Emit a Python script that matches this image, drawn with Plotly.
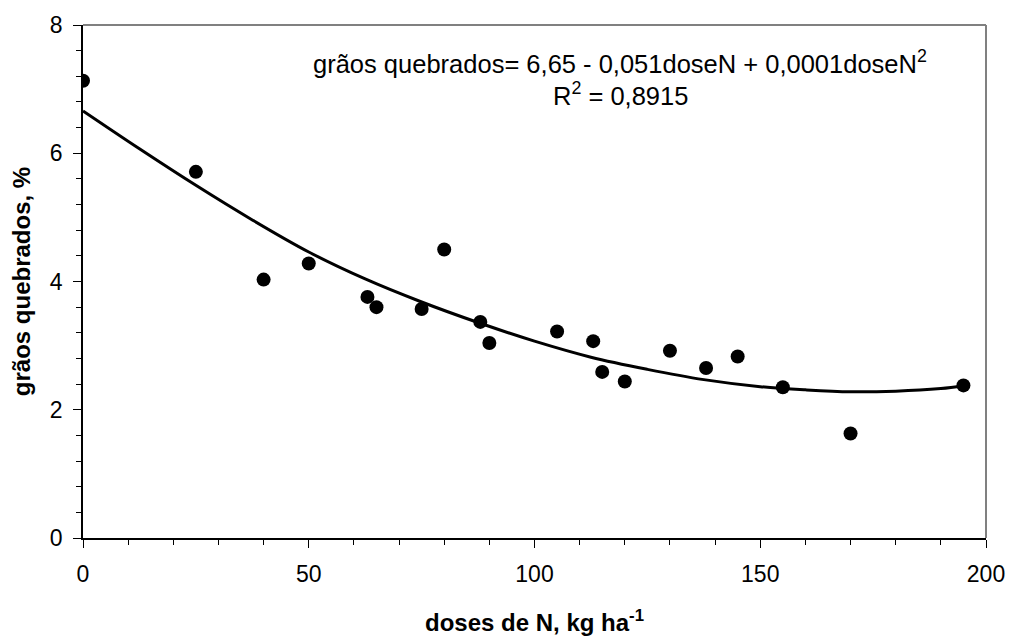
import plotly.graph_objects as go

# Observed data: N doses (kg/ha) and broken grains (%)
dose = [0, 25, 40, 50, 63, 65, 75, 80, 88, 90, 105, 113, 115, 120, 130, 138, 145, 155, 170, 195]
broken = [7.13, 5.71, 4.03, 4.28, 3.76, 3.60, 3.57, 4.50, 3.37, 3.04, 3.22, 3.07, 2.59, 2.44,
          2.92, 2.65, 2.83, 2.35, 1.63, 2.38]

# Trend line values
trend_x = [0, 12.5, 25, 37.5, 50, 62.5, 75, 87.5, 100, 112.5, 125, 137.5, 150, 160, 170, 180, 190, 195]
trend_y = [6.66, 6.07, 5.50, 4.96, 4.46, 4.04, 3.68, 3.36, 3.07, 2.82, 2.63, 2.47, 2.36, 2.31,
           2.28, 2.29, 2.33, 2.37]

x_ticks = [0, 50, 100, 150, 200]
y_ticks = [0, 2, 4, 6, 8]

eq_line1 = "grãos quebrados= 6,65 - 0,051doseN + 0,0001doseN<sup>2</sup>"
eq_line2 = "R<sup>2</sup> = 0,8915"

FONT = "Liberation Sans, Arial, sans-serif"

fig = go.Figure()
fig.add_trace(go.Scatter(x=trend_x, y=trend_y, mode="lines",
                         line=dict(color="black", width=3, shape="spline"),
                         showlegend=False, hoverinfo="skip"))
fig.add_trace(go.Scatter(x=dose, y=broken, mode="markers",
                         marker=dict(color="black", size=14),
                         showlegend=False))

fig.update_layout(
    width=1009, height=636,
    margin=dict(l=83, r=23, t=25, b=98),
    plot_bgcolor="white", paper_bgcolor="white",
    font=dict(family=FONT, color="black", size=23),
    xaxis=dict(range=[0, 200], tickvals=x_ticks, showgrid=False, zeroline=False,
               automargin=False,
               showline=True, linecolor="black", linewidth=1.5,
               ticks="outside", ticklen=8, tickwidth=1.2, tickcolor="black",
               ticklabelstandoff=7,
               minor=dict(dtick=10, ticks="outside", ticklen=5, tickwidth=1, tickcolor="black"),
               tickfont=dict(size=23),
               title=dict(text="<b>doses de N, kg ha<sup>-1</sup></b>", font=dict(size=24), standoff=28)),
    yaxis=dict(range=[0, 8], tickvals=y_ticks, showgrid=False, zeroline=False,
               automargin=False,
               showline=True, linecolor="black", linewidth=1.5,
               ticks="outside", ticklen=8, tickwidth=1.2, tickcolor="black",
               ticklabelstandoff=6,
               minor=dict(dtick=0.4, ticks="outside", ticklen=5, tickwidth=1, tickcolor="black"),
               tickfont=dict(size=23),
               title=dict(text="<b>grãos quebrados, %</b>", font=dict(size=24), standoff=12)),
    shapes=[
        dict(type="line", xref="paper", yref="paper", x0=0, x1=1, y0=1, y1=1,
             line=dict(color="#808080", width=2)),
        dict(type="line", xref="paper", yref="paper", x0=1, x1=1, y0=0, y1=1,
             line=dict(color="#808080", width=2)),
    ],
    annotations=[
        dict(x=119.0, y=7.43, xref="x", yref="y", text=eq_line1, showarrow=False,
             font=dict(size=25.5, family=FONT, color="black"), xanchor="center", yanchor="middle"),
        dict(x=119.0, y=6.93, xref="x", yref="y", text=eq_line2, showarrow=False,
             font=dict(size=25.5, family=FONT, color="black"), xanchor="center", yanchor="middle"),
    ],
)

fig.write_html("out.html", config={"displayModeBar": False},
               post_script="document.body.style.margin='0px';")
